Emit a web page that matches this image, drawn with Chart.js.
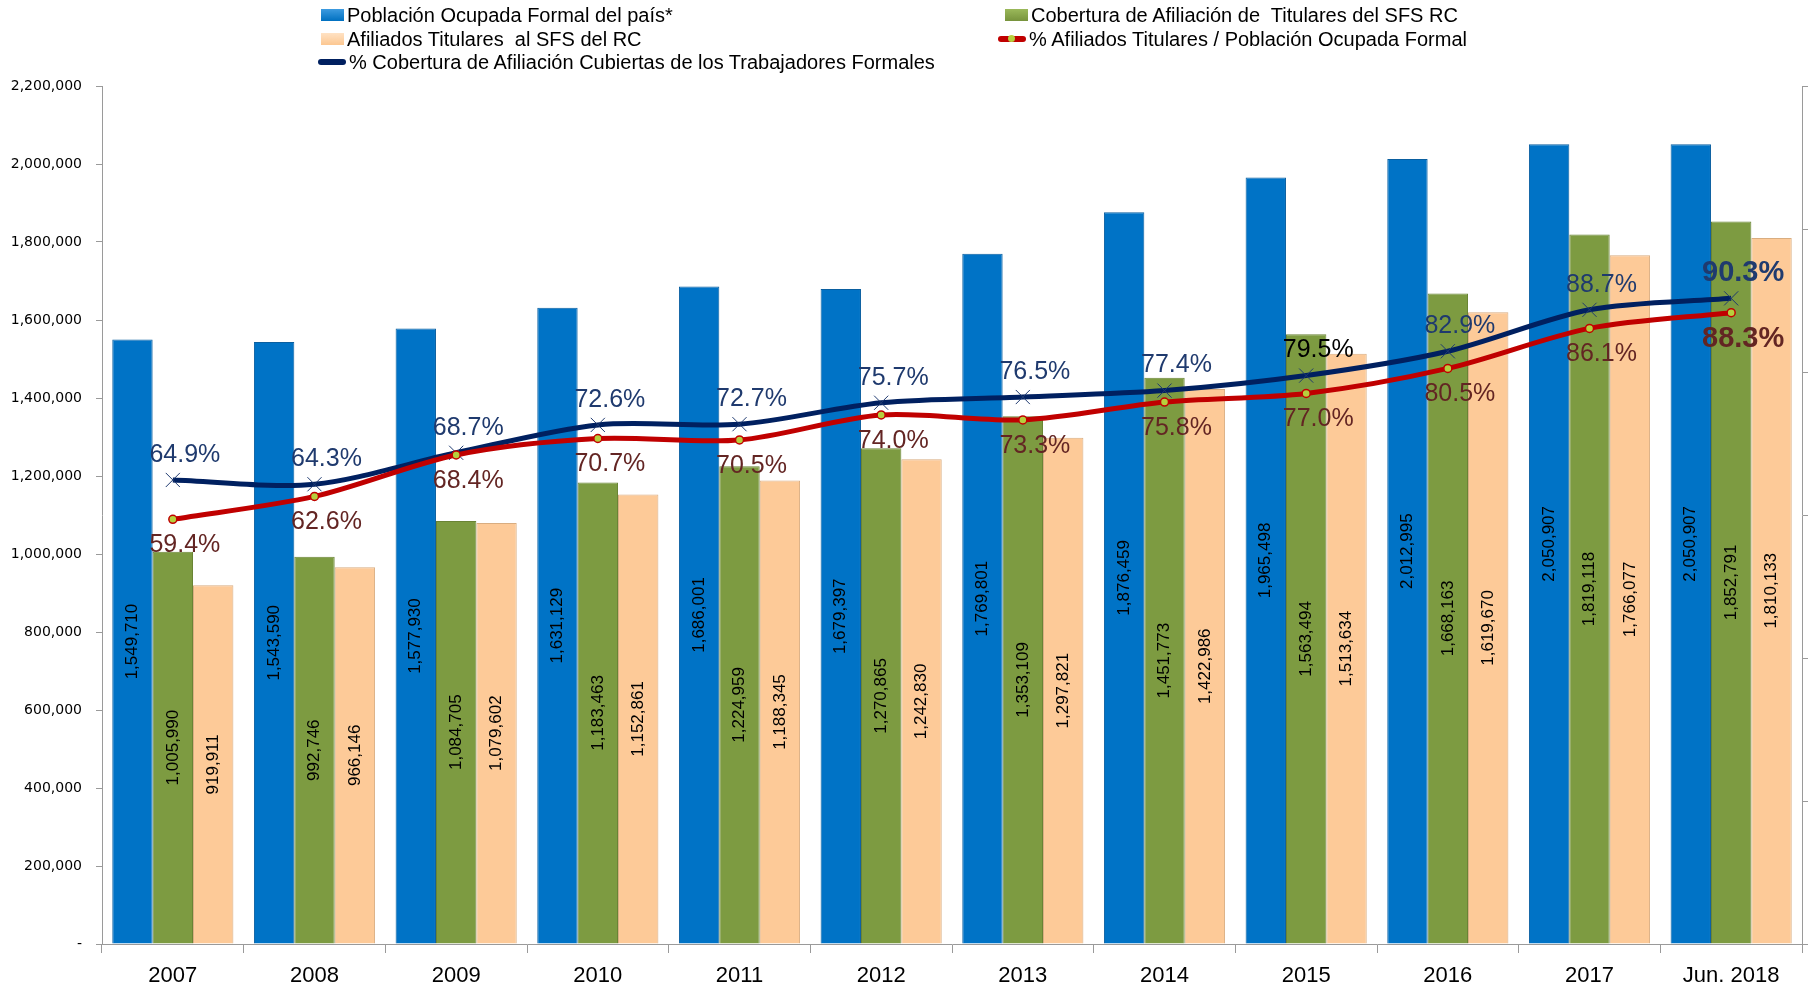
<!DOCTYPE html>
<html lang="es">

<head>
    <meta charset="UTF-8">
    <title>Cobertura SFS RC</title>
    <script src="https://cdn.jsdelivr.net/npm/chart.js"></script>

    <style>
        body {
            margin: 0;
            background-color: #ffffff;
            font-family: "Liberation Sans", Arial, sans-serif;
        }

        #wrap {
            position: relative;
            width: 1813px;
            height: 989px;
        }

        .leg {
            position: absolute;
            font-size: 20px;
            color: #000;
            white-space: pre;
            line-height: 22px;
            display: flex;
            align-items: center;
        }

        .box {
            display: inline-block;
            width: 23px;
            height: 12px;
            margin-right: 3px;
        }

        .ln {
            position: relative;
            display: inline-block;
            width: 28px;
            height: 6px;
            border-radius: 3px;
            margin-right: 3px;
        }
    </style>
</head>

<body>
    <div id="wrap">
        <canvas id="chart" width="1813" height="989"></canvas>

        <div class="leg" style="left:321px; top:4px;">
            <span class="box" style="background:linear-gradient(#3d9be0,#0070c0);"></span>Población Ocupada Formal del país*</div>
        <div class="leg" style="left:1005px; top:4px;">
            <span class="box" style="background:linear-gradient(#9bb95a,#77933c);"></span>Cobertura de Afiliación de  Titulares del SFS RC</div>
        <div class="leg" style="left:321px; top:28px;">
            <span class="box" style="background:linear-gradient(#ffe2c4,#fcc791);"></span>Afiliados Titulares  al SFS del RC</div>
        <div class="leg" style="left:998px; top:28px;">
            <span class="ln" style="background:#c00000;"><span style="position:absolute;left:10px;top:-1px;width:7px;height:7px;border-radius:50%;background:#b7cf3d;"></span></span>% Afiliados Titulares / Población Ocupada Formal</div>
        <div class="leg" style="left:318px; top:51px;">
            <span class="ln" style="background:#002060;"></span>% Cobertura de Afiliación Cubiertas de los Trabajadores Formales</div>
    </div>

    <script>
        // datos
        const years = ['2007', '2008', '2009', '2010', '2011', '2012', '2013', '2014', '2015', '2016', '2017', 'Jun. 2018'];

        const poblacionOcupada = [1549710, 1543590, 1577930, 1631129, 1686001, 1679397, 1769801, 1876459, 1965498, 2012995, 2050907, 2050907];
        const coberturaTitulares = [1005990, 992746, 1084705, 1183463, 1224959, 1270865, 1353109, 1451773, 1563494, 1668163, 1819118, 1852791];
        const afiliadosTitulares = [919911, 966146, 1079602, 1152861, 1188345, 1242830, 1297821, 1422986, 1513634, 1619670, 1766077, 1810133];

        const pctCobertura = [0.649, 0.643, 0.687, 0.726, 0.727, 0.757, 0.765, 0.774, 0.795, 0.829, 0.887, 0.903];
        const pctAfiliados = [0.594, 0.626, 0.684, 0.707, 0.705, 0.740, 0.733, 0.758, 0.770, 0.805, 0.861, 0.883];

        const yTicks = [0, 200000, 400000, 600000, 800000, 1000000, 1200000, 1400000, 1600000, 1800000, 2000000, 2200000];

        function barGradient(c1, c2, c3) {
            return function (ctx) {
                const el = ctx.element;
                if (!el || !el.width) return c2;
                const g = ctx.chart.ctx.createLinearGradient(el.x - el.width / 2, 0, el.x + el.width / 2, 0);
                g.addColorStop(0, c1);
                g.addColorStop(0.12, c2);
                g.addColorStop(0.88, c2);
                g.addColorStop(1, c3);
                return g;
            };
        }

        // etiquetas de valores (barras giradas y porcentajes)
        const labelsPlugin = {
            id: 'valueLabels',
            afterDatasetsDraw(chart) {
                const ctx = chart.ctx;
                chart.data.datasets.forEach((ds, di) => {
                    const meta = chart.getDatasetMeta(di);
                    if (meta.hidden) return;
                    meta.data.forEach((el, i) => {
                        const v = ds.data[i];
                        ctx.save();
                        if (ds.type === 'bar') {
                            const cy = (el.y + el.base) / 2;
                            ctx.translate(el.x, cy);
                            ctx.rotate(-Math.PI / 2);
                            ctx.font = '17px "Liberation Sans", Arial, sans-serif';
                            ctx.fillStyle = '#000';
                            ctx.textAlign = 'center';
                            ctx.textBaseline = 'middle';
                            ctx.fillText(v.toLocaleString('en-US'), 0, 0);
                        } else {
                            const last = i === ds.data.length - 1;
                            const txt = (v * 100).toFixed(1) + '%';
                            ctx.font = (last ? 'bold 29px ' : '25px ') + '"Liberation Sans", Arial, sans-serif';
                            ctx.textAlign = 'center';
                            ctx.textBaseline = 'middle';
                            ctx.fillStyle = ds.labelColor;
                            if (ds.label.startsWith('% Cobertura') && years[i] === '2015') ctx.fillStyle = '#000';
                            ctx.fillText(txt, el.x + 12, el.y + ds.labelOffset);
                        }
                        ctx.restore();
                    });
                });
            }
        };

        const ctx = document.getElementById('chart').getContext('2d');
        const chart = new Chart(ctx, {
            data: {
                labels: years,
                datasets: [
                    {
                        type: 'bar',
                        label: 'Población Ocupada Formal del país*',
                        data: poblacionOcupada,
                        yAxisID: 'y',
                        backgroundColor: barGradient('#005a9e', '#0073c6', '#1f86d2'),
                        borderColor: '#0a5fa0',
                        borderWidth: 1,
                        order: 2
                    },
                    {
                        type: 'bar',
                        label: 'Cobertura de Afiliación de  Titulares del SFS RC',
                        data: coberturaTitulares,
                        yAxisID: 'y',
                        backgroundColor: barGradient('#657e33', '#7d9b41', '#8aa84e'),
                        borderColor: '#6a8435',
                        borderWidth: 1,
                        order: 3
                    },
                    {
                        type: 'bar',
                        label: 'Afiliados Titulares  al SFS del RC',
                        data: afiliadosTitulares,
                        yAxisID: 'y',
                        backgroundColor: barGradient('#e8b482', '#fdca98', '#fdd3a8'),
                        borderColor: '#d9ad80',
                        borderWidth: 1,
                        order: 4
                    },
                    {
                        type: 'line',
                        label: '% Cobertura de Afiliación Cubiertas de los Trabajadores Formales',
                        data: pctCobertura,
                        yAxisID: 'y2',
                        borderColor: '#002060',
                        borderWidth: 5,
                        tension: 0.3,
                        pointStyle: 'crossRot',
                        pointRadius: 10,
                        pointBorderWidth: 1,
                        pointBorderColor: '#1f3a70',
                        pointBackgroundColor: '#1f3a70',
                        labelColor: '#1f3a6e',
                        labelOffset: -25,
                        order: 1
                    },
                    {
                        type: 'line',
                        label: '% Afiliados Titulares / Población Ocupada Formal',
                        data: pctAfiliados,
                        yAxisID: 'y2',
                        borderColor: '#c00000',
                        borderWidth: 5,
                        tension: 0.3,
                        pointStyle: 'circle',
                        pointRadius: 4,
                        pointBorderWidth: 1.5,
                        pointBorderColor: '#c00000',
                        pointBackgroundColor: '#b7cf3d',
                        labelColor: '#632523',
                        labelOffset: 26,
                        order: 0
                    }
                ]
            },
            options: {
                responsive: false,
                animation: false,
                layout: { padding: { top: 86, left: 0, right: 0, bottom: 0 } },
                datasets: {
                    bar: { categoryPercentage: 0.855, barPercentage: 1.0 }
                },
                plugins: {
                    legend: { display: false },
                    tooltip: { enabled: false }
                },
                scales: {
                    x: {
                        offset: true,
                        grid: { drawOnChartArea: false, offset: true, tickLength: 9, color: '#9a9a9a' },
                        border: { color: '#9a9a9a' },
                        ticks: {
                            color: '#000',
                            padding: 10,
                            font: { family: '"Liberation Sans", Arial, sans-serif', size: 22 }
                        },
                        afterFit(scale) { scale.height = 45; }
                    },
                    y: {
                        position: 'left',
                        min: 0,
                        max: 2200000,
                        afterBuildTicks(scale) { scale.ticks = yTicks.map(v => ({ value: v })); },
                        grid: { drawOnChartArea: false, tickLength: 6, color: '#9a9a9a' },
                        border: { color: '#9a9a9a' },
                        ticks: {
                            color: '#000',
                            padding: 14,
                            font: { family: '"DejaVu Sans", Verdana, sans-serif', size: 14 },
                            callback: v => v === 0 ? '-' : v.toLocaleString('en-US')
                        },
                        afterFit(scale) { scale.width = 102; }
                    },
                    y2: {
                        position: 'right',
                        min: 0,
                        max: 1.2,
                        ticks: { display: false, stepSize: 0.2 },
                        grid: { drawOnChartArea: false, tickLength: 6, color: '#9a9a9a' },
                        border: { color: '#9a9a9a' },
                        afterFit(scale) { scale.width = 6; }
                    }
                }
            },
            plugins: [labelsPlugin]
        });
    </script>
</body>

</html>
